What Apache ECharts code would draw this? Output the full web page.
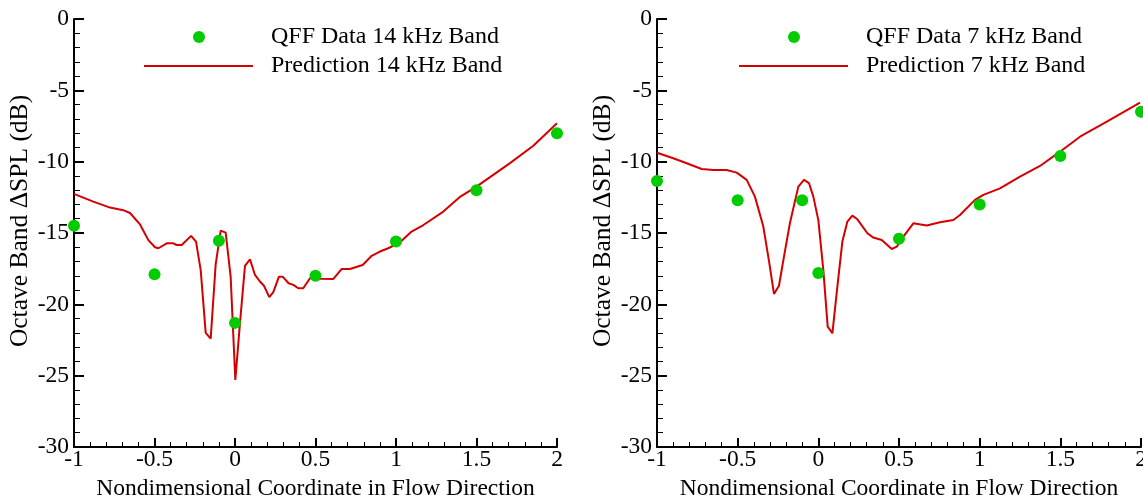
<!DOCTYPE html>
<html>
<head>
<meta charset="utf-8">
<script src="https://cdn.jsdelivr.net/npm/echarts@6/dist/echarts.min.js"></script>
<style>
html,body{margin:0;padding:0;background:#fff;}
#c{width:1143px;height:497px;}
</style>
</head>
<body>
<div id="c"></div>
<script>
// ---- Data ----
const dataX = [-1, -0.5, -0.1, 0, 0.5, 1, 1.5, 2];
const qff14 = [-14.5, -17.9, -15.55, -21.3, -18.0, -15.6, -12.0, -8.0];
const qff7  = [-11.35, -12.7, -12.7, -17.8, -15.4, -13.0, -9.6, -6.5];

const pred14X = [-1, -0.88, -0.776, -0.694, -0.652, -0.59, -0.538, -0.497, -0.476, -0.424, -0.383, -0.362, -0.331, -0.273, -0.242, -0.213, -0.182, -0.151, -0.12, -0.089, -0.058, -0.027, 0.002, 0.031, 0.062, 0.093, 0.124, 0.155, 0.18, 0.213, 0.238, 0.273, 0.296, 0.333, 0.362, 0.393, 0.424, 0.466, 0.491, 0.528, 0.611, 0.663, 0.714, 0.793, 0.849, 0.9, 0.952, 1.025, 1.097, 1.17, 1.294, 1.4, 1.5, 1.708, 1.853, 2.0];
const pred14Y = [-12.26, -12.8, -13.22, -13.4, -13.6, -14.4, -15.5, -16.0, -16.07, -15.72, -15.72, -15.84, -15.84, -15.2, -15.6, -17.6, -22.0, -22.4, -17.2, -14.83, -14.97, -18.06, -25.3, -21.3, -17.3, -16.84, -17.94, -18.4, -18.7, -19.5, -19.15, -18.06, -18.06, -18.52, -18.64, -18.87, -18.87, -18.17, -18.06, -18.2, -18.22, -17.52, -17.52, -17.24, -16.6, -16.3, -16.07, -15.65, -14.9, -14.44, -13.5, -12.45, -11.75, -10.1, -8.88, -7.31];

const pred7X = [-1, -0.899, -0.816, -0.723, -0.651, -0.568, -0.506, -0.444, -0.393, -0.341, -0.304, -0.275, -0.244, -0.213, -0.176, -0.124, -0.089, -0.058, -0.031, 0.0, 0.031, 0.058, 0.087, 0.118, 0.149, 0.18, 0.211, 0.242, 0.304, 0.341, 0.393, 0.455, 0.486, 0.527, 0.589, 0.672, 0.754, 0.837, 0.878, 0.971, 1.023, 1.126, 1.25, 1.374, 1.498, 1.622, 1.788, 1.994];
const pred7Y = [-9.37, -9.76, -10.11, -10.51, -10.58, -10.58, -10.77, -11.28, -12.45, -14.55, -17.1, -19.27, -18.7, -16.66, -14.3, -11.75, -11.28, -11.5, -12.45, -14.1, -17.6, -21.56, -22.03, -18.76, -15.6, -14.2, -13.78, -14.04, -15.02, -15.32, -15.49, -16.12, -15.96, -15.25, -14.32, -14.48, -14.25, -14.09, -13.74, -12.68, -12.33, -11.87, -11.05, -10.3, -9.3, -8.25, -7.2, -5.86];

const xTicks = {min: -1, max: 2, interval: 0.5};
const yTicks = {min: -30, max: 0, interval: 5};
const names = {
  qff14: 'QFF Data 14 kHz Band', pred14: 'Prediction 14 kHz Band',
  qff7: 'QFF Data 7 kHz Band', pred7: 'Prediction 7 kHz Band',
  xTitle: 'Nondimensional Coordinate in Flow Direction',
  yTitle: 'Octave Band \u0394SPL (dB)'
};

// ---- Build ----
const FONT = 'Liberation Serif';
const GREEN = '#00cc00';
const RED = '#d40000';
const zip = (a, b) => a.map((v, i) => [v, b[i]]);

function xAxis(gi) {
  return {
    type: 'value', gridIndex: gi, min: xTicks.min, max: xTicks.max, interval: xTicks.interval,
    name: names.xTitle, nameLocation: 'middle', nameGap: 24,
    nameTextStyle: {fontFamily: FONT, fontSize: 23.5, color: '#000'},
    axisLine: {show: true, onZero: false, lineStyle: {color: '#000', width: 2}},
    axisTick: {show: true, inside: true, length: 9, lineStyle: {color: '#000', width: 2}},
    minorTick: {show: true, splitNumber: 5, length: 5, lineStyle: {color: '#000', width: 1}},
    axisLabel: {fontFamily: FONT, fontSize: 23.5, color: '#000', margin: 1,
      formatter: v => String(v)},
    splitLine: {show: false}
  };
}
function yAxis(gi) {
  return {
    type: 'value', gridIndex: gi, min: yTicks.min, max: yTicks.max, interval: yTicks.interval,
    name: names.yTitle, nameLocation: 'middle', nameGap: 40,
    nameTextStyle: {fontFamily: FONT, fontSize: 25.5, color: '#000', padding: [0, 0, 0, 24]},
    axisLine: {show: true, onZero: false, lineStyle: {color: '#000', width: 2}},
    axisTick: {show: true, inside: true, length: 10, lineStyle: {color: '#000', width: 2}},
    minorTick: {show: true, splitNumber: 5, length: 6, lineStyle: {color: '#000', width: 1}},
    axisLabel: {fontFamily: FONT, fontSize: 23.5, color: '#000', margin: 5},
    splitLine: {show: false}
  };
}
function legends(scName, lnName, xLine) {
  const ts = {fontFamily: FONT, fontSize: 24, color: '#000', lineHeight: 26};
  return [
    {data: [{name: scName, icon: 'circle'}], left: xLine + 49, top: 24, padding: 0, itemWidth: 12, itemHeight: 12,
     selectedMode: false, textStyle: Object.assign({}, ts, {padding: [0, 0, 0, 61]})},
    {data: [{name: lnName, icon: 'rect'}], left: xLine, top: 53, padding: 0, itemWidth: 109, itemHeight: 2,
     selectedMode: false, textStyle: Object.assign({}, ts, {padding: [0, 0, 0, 13]})}
  ];
}

const chart = echarts.init(document.getElementById('c'), null, {renderer: 'canvas'});
chart.setOption({
  animation: false,
  backgroundColor: '#fff',
  grid: [
    {left: 74, top: 19, width: 483, height: 428, containLabel: false, outerBoundsMode: 'none'},
    {left: 657, top: 19, width: 484, height: 428, containLabel: false, outerBoundsMode: 'none'}
  ],
  xAxis: [xAxis(0), xAxis(1)],
  yAxis: [yAxis(0), yAxis(1)],
  legend: legends(names.qff14, names.pred14, 144).concat(legends(names.qff7, names.pred7, 739)),
  series: [
    {name: names.pred14, type: 'line', xAxisIndex: 0, yAxisIndex: 0, data: zip(pred14X, pred14Y),
     symbol: 'none', showSymbol: false, lineStyle: {color: RED, width: 2}, itemStyle: {color: RED}, z: 2},
    {name: names.qff14, type: 'scatter', xAxisIndex: 0, yAxisIndex: 0, data: zip(dataX, qff14),
     symbol: 'circle', symbolSize: 12, itemStyle: {color: GREEN, opacity: 1}, z: 3, clip: false},
    {name: names.pred7, type: 'line', xAxisIndex: 1, yAxisIndex: 1, data: zip(pred7X, pred7Y),
     symbol: 'none', showSymbol: false, lineStyle: {color: RED, width: 2}, itemStyle: {color: RED}, z: 2},
    {name: names.qff7, type: 'scatter', xAxisIndex: 1, yAxisIndex: 1, data: zip(dataX, qff7),
     symbol: 'circle', symbolSize: 12, itemStyle: {color: GREEN, opacity: 1}, z: 3, clip: false}
  ]
});
</script>
</body>
</html>
